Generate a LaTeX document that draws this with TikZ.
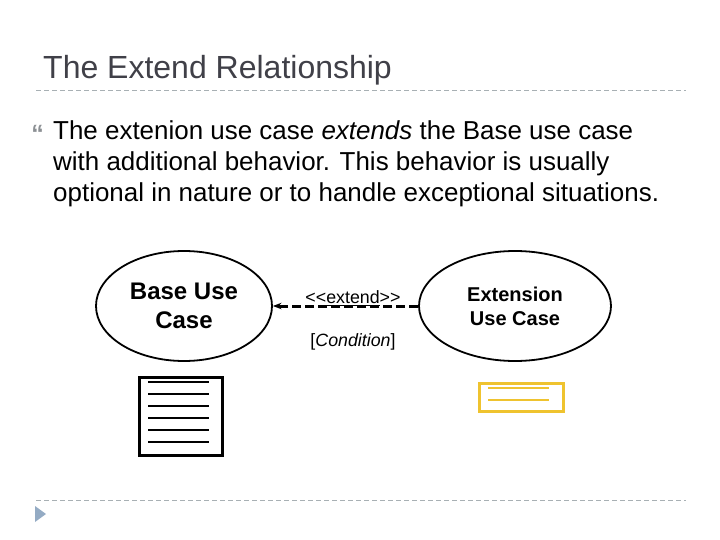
\documentclass[tikz,border=0pt]{standalone}
\usepackage{fontspec}
\setmainfont{Liberation Sans}
\usepackage{xcolor}
\usetikzlibrary{shapes.geometric,arrows.meta,positioning,calc}
\definecolor{titlegray}{HTML}{404048}
\definecolor{rulegray}{HTML}{A8B0B4}
\definecolor{bulletgray}{HTML}{8C9094}
\definecolor{tribblue}{HTML}{94ABC4}
\definecolor{noteyellow}{HTML}{EFC32F}

\begin{document}
\begin{tikzpicture}[
  x=1pt, y=-1pt,
  usecase/.style={draw, ellipse, line width=1.8pt, minimum height=110pt, inner sep=0pt,
              align=center, font=\bfseries},
  notebox/.style={draw, line width=3pt, anchor=north west, inner sep=0pt},
  rulerline/.style={rulegray, dashed, dash pattern=on 5pt off 3pt, line width=0.6pt},
  ar/.style={-{Stealth[length=3mm]}, dashed, dash pattern=on 9pt off 4pt, line width=3pt},
  lbl/.style={font=\fontsize{17.8}{20}\selectfont, inner sep=0pt}
]
  \useasboundingbox (0,0) rectangle (720,540);
  \node[anchor=west, inner sep=0pt, titlegray, font=\fontsize{32}{36}\selectfont] (title) at (43,70) {The Extend Relationship};
  \coordinate (ruleA) at (36,90);
  \coordinate (ruleB) at (686,90);
  \coordinate (ruleC) at (36,500);
  \coordinate (ruleD) at (686,500);
  \draw[rulerline] (ruleA) -- (ruleB);
  \draw[rulerline] (ruleC) -- (ruleD);
  \node[anchor=center, inner sep=0pt, bulletgray, font=\bfseries\fontsize{25}{25}\selectfont] (bullet) at (37.5,134) {“};
  \node[anchor=north west, inner sep=0pt, align=left, font=\fontsize{25.95}{31}\selectfont] (body) at (53,120.5)
    {The extenion use case \textit{extends} the Base use case\\
     with additional behavior. This behavior is usually\\
     optional in nature or to handle exceptional situations.};

  \node[usecase, minimum width=176pt, font=\bfseries\fontsize{24}{29}\selectfont] (base) at (184,306) {Base Use\\Case};
  \node[usecase, minimum width=192pt, font=\bfseries\fontsize{20}{24}\selectfont] (ext) at (515,306) {Extension\\Use Case};
  \draw[ar] (ext.west) -- (base.east);
  \node[lbl] (extlbl) at (353,298) {{<}{<}\underline{extend}{>}{>}};
  \node[lbl] (cond) at (353,342) {[\textit{Condition}]};

  \node[notebox, minimum width=83pt, minimum height=78pt] (basenote) at (138,376) {};
  \foreach \yy in {6,18,30,42,54,66}
    \draw[line width=2.2pt] ($(basenote.north west)+(10,\yy)$) -- ++(61,0);
  \node[notebox, noteyellow, minimum width=84pt, minimum height=28pt] (extnote) at (478,382) {};
  \foreach \yy in {6,18}
    \draw[noteyellow, line width=2.2pt] ($(extnote.north west)+(10,\yy)$) -- ++(61,0);

  \fill[tribblue] (35,506) -- (46,514) -- (35,522) -- cycle;
\end{tikzpicture}
\end{document}
